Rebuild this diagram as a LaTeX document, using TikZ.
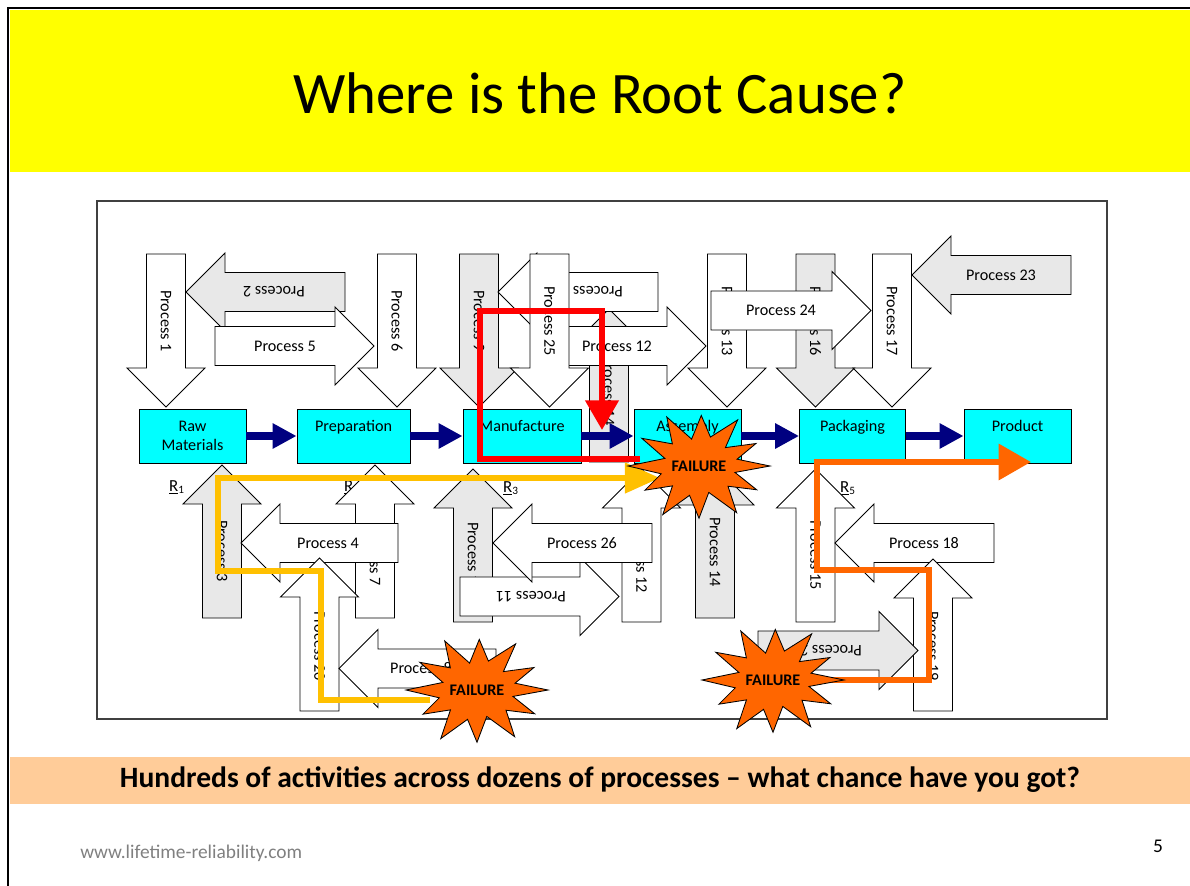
\documentclass[tikz,border=0pt]{standalone}
\usepackage{fontspec}
\setmainfont{Carlito}
\usetikzlibrary{arrows.meta}
\definecolor{banner}{RGB}{255,255,0}
\definecolor{footbar}{RGB}{255,204,153}
\definecolor{stagecyan}{RGB}{0,255,255}
\definecolor{flownavy}{RGB}{0,0,128}
\definecolor{procgray}{RGB}{232,232,232}
\definecolor{failorange}{RGB}{255,102,0}
\definecolor{pathyellow}{RGB}{255,192,0}
\definecolor{pathred}{RGB}{255,0,0}
\definecolor{urlgray}{RGB}{128,128,128}
\definecolor{framegray}{RGB}{64,64,64}
\newcommand{\procdown}[7] % fill, x, y top, y tip, y label, name, label
{
	\draw[procarrow, fill=#1] (#2-19.5,#3) -- (#2+19.5,#3) -- (#2+19.5,#4-39) -- (#2+39,#4-39) -- (#2,#4) -- (#2-39,#4-39) -- (#2-19.5,#4-39) -- cycle;
	\node[proclabel, rotate=-90] (#6) at (#2,#5) {#7};
}
\newcommand{\procup}[7] % fill, x, y bottom, y tip, y label, name, label
{
	\draw[procarrow, fill=#1] (#2-19.5,#3) -- (#2+19.5,#3) -- (#2+19.5,#4+39) -- (#2+39,#4+39) -- (#2,#4) -- (#2-39,#4+39) -- (#2-19.5,#4+39) -- cycle;
	\node[proclabel, rotate=-90] (#6) at (#2,#5) {#7};
}
\newcommand{\procleft}[8] % fill, y, x tail, x tip, x label, text angle, name, label
{
	\draw[procarrow, fill=#1] (#3,#2-19.5) -- (#3,#2+19.5) -- (#4+39,#2+19.5) -- (#4+39,#2+39) -- (#4,#2) -- (#4+39,#2-39) -- (#4+39,#2-19.5) -- cycle;
	\node[proclabel, rotate=#6] (#7) at (#5,#2) {#8};
}
\newcommand{\procright}[8] % fill, y, x tail, x tip, x label, text angle, name, label
{
	\draw[procarrow, fill=#1] (#3,#2-19.5) -- (#3,#2+19.5) -- (#4-39,#2+19.5) -- (#4-39,#2+39) -- (#4,#2) -- (#4-39,#2-39) -- (#4-39,#2-19.5) -- cycle;
	\node[proclabel, rotate=#6] (#7) at (#5,#2) {#8};
}
% explosion outline: angle / share of radius
\newcommand{\starpts}{13/0.52, 28/0.92, 42/0.55, 58/1.0, 74/0.5, 90/0.95, 104/0.55, 120/1.02, 136/0.52, 150/0.88, 165/0.55, 180/1.0, 196/0.5, 212/0.95, 227/0.55, 243/1.0, 258/0.5, 272/0.92, 287/0.55, 303/1.0, 318/0.5, 333/0.9, 347/0.55}
\newcommand{\failure}[3] % x, y, name
{
	\begin{scope}[shift={(#1,#2)}]
	\draw[failstar] (0:71 and 55) \foreach \a/\r in \starpts { -- (\a:{71*\r} and {55*\r}) } -- cycle;
	\end{scope}
	\node[failtext] (#3) at (#1,#2) {FAILURE};
}

\begin{document}
\begin{tikzpicture}[x=0.025cm, y=-0.025cm,
	procarrow/.style={draw=black, line width=0.6pt},
	proclabel/.style={font=\fontsize{11.5}{13.8}\selectfont, inner sep=0pt},
	stage/.style={draw=black, line width=0.6pt, fill=stagecyan, minimum height=1.35cm, align=center, inner sep=1pt, font=\fontsize{11.5}{14}\selectfont},
	flow/.style={draw=flownavy, line width=5.7pt, -{Triangle[length=17pt,width=17pt]}},
	tracepath/.style={line width=4.3pt},
	failstar/.style={draw=black, line width=0.6pt, fill=failorange},
	failtext/.style={font=\fontsize{11.5}{13.8}\selectfont\bfseries, inner sep=0pt},
	rlabel/.style={font=\fontsize{12}{14}\selectfont, inner sep=0pt}]
	% slide
	\useasboundingbox (0,0) rectangle (1190,886);
	\fill[white] (0,0) rectangle (1190,886);
	\fill[banner] (10,10) rectangle (1190,172);
	\draw[line width=1.4pt] (8,886) -- (8,8) -- (1190,8);
	\node[font=\fontsize{41.8}{50}\selectfont] (title) at (600,93) {Where is the Root Cause?};
	\draw[framegray, line width=0.8pt] (97,201) rectangle (1107,719);
	
	% processes above the line
	\procdown{white}{166}{254}{407}{321}{p1}{Process 1}
	\procleft{procgray}{292}{345}{186}{274}{180}{p2}{Process 2}
	\procright{white}{346}{215}{374}{285}{0}{p5}{Process 5}
	\procdown{white}{397}{254}{407}{321}{p6}{Process 6}
	\procdown{procgray}{479}{254}{407}{321}{p9}{Process 9}
	\procup{procgray}{609}{462}{309}{391}{p14a}{Process 14}
	\procleft{white}{292}{658}{498}{598}{180}{pback}{Process}
	\procright{white}{346}{548}{706}{617}{0}{p12a}{Process 12}
	\procdown{white}{549.5}{254}{407}{321}{p25}{Process 25}
	\procdown{white}{727}{254}{407}{321}{p13}{Process 13}
	\procdown{procgray}{815.5}{254}{407}{321}{p16}{Process 16}
	\procright{white}{310.5}{711}{871}{781}{0}{p24}{Process 24}
	\procdown{white}{892}{254}{407}{321}{p17}{Process 17}
	\procleft{procgray}{275}{1071}{912}{1001}{0}{p23}{Process 23}
	
	% processes below the line
	\node[rlabel] (r1) at (177,487) {\underline{R}\textsubscript{1}};
	\node[rlabel] (r2) at (352,487) {\underline{R}\textsubscript{2}};
	\node[rlabel] (r3) at (511,488) {\underline{R}\textsubscript{3}};
	\node[rlabel] (r5) at (848,488) {\underline{R}\textsubscript{5}};
	\procup{procgray}{222}{618}{465}{551}{p3}{Process 3}
	\procup{white}{375}{618}{465}{555}{p7}{Process 7}
	\procleft{white}{543}{398}{241}{328}{0}{p4}{Process 4}
	\procup{white}{319.5}{711}{558}{646}{p20}{Process 20}
	\procleft{white}{668.5}{496}{339}{421}{0}{p8}{Process 8}
	\procup{procgray}{473}{622}{469}{557}{p10}{Process 10}
	\procup{white}{641.5}{622}{469}{558}{p12b}{Process 12}
	\procright{white}{596.5}{460}{619}{531}{180}{p11}{Process 11}
	\procleft{white}{543}{652}{493}{582}{0}{p26}{Process 26}
	\procup{procgray}{715}{618}{466}{552}{p14b}{Process 14}
	\procup{white}{815.5}{622}{469}{555}{p15}{Process 15}
	\procleft{white}{543}{994}{835}{924}{0}{p18}{Process 18}
	\procup{white}{933}{711}{559}{646}{p19}{Process 19}
	\procright{procgray}{650.5}{758}{918}{827}{180}{p22}{Process 22}
	
	% main line
	\node[stage, minimum width=2.675cm] (raw) at (192.5,436) {Raw\\Materials};
	\node[stage, minimum width=2.825cm] (prep) at (353.5,436) {Preparation\\\phantom{x}};
	\node[stage, minimum width=2.95cm] (manu) at (522,436) {Manufacture\\\phantom{x}};
	\node[stage, minimum width=2.675cm] (asm) at (687.5,436) {Assembly\\\phantom{x}};
	\node[stage, minimum width=2.65cm] (pack) at (852.5,436) {Packaging\\\phantom{x}};
	\node[stage, minimum width=2.675cm] (prod) at (1017.5,436) {Product\\\phantom{x}};
	\foreach \a/\b in {raw/prep, prep/manu, manu/asm, asm/pack, pack/prod}
		\draw[flow] (\a) -- (\b);
	
	% failure traces
	\coordinate (redstart) at (640,459);
	\coordinate (redend) at (602,430);
	\draw[tracepath, draw=pathred, -{Triangle[length=21pt,width=23pt]}] (redstart) -| (480,311) -| (redend);
	\coordinate (ylwstart) at (430,700);
	\coordinate (ylwend) at (660,478);
	\draw[tracepath, draw=pathyellow, -{Triangle[length=25pt,width=21pt]}] (ylwstart) -| (321,571) -| (218,478) -- (ylwend);
	\coordinate (orgstart) at (830,680);
	\coordinate (orgend) at (1031,462);
	\draw[tracepath, draw=failorange, -{Triangle[length=23pt,width=25pt]}] (orgstart) -| (929,570) -| (817,462) -- (orgend);
	
	\failure{699}{466}{fail1}
	\failure{477}{690}{fail2}
	\failure{773}{680}{fail3}
	
	% footer
	\fill[footbar] (10,757) rectangle (1190,804);
	\node[font=\fontsize{21}{25}\selectfont\bfseries] (moral) at (600,780) {Hundreds of activities across dozens of processes -- what chance have you got?};
	\node[anchor=west, text=urlgray, font=\fontsize{13.8}{16}\selectfont, inner sep=0pt] (url) at (80,853) {www.lifetime-reliability.com};
	\node[font=\fontsize{13.8}{16}\selectfont, inner sep=0pt] (pageno) at (1158,846) {5};
\end{tikzpicture}
\end{document}
